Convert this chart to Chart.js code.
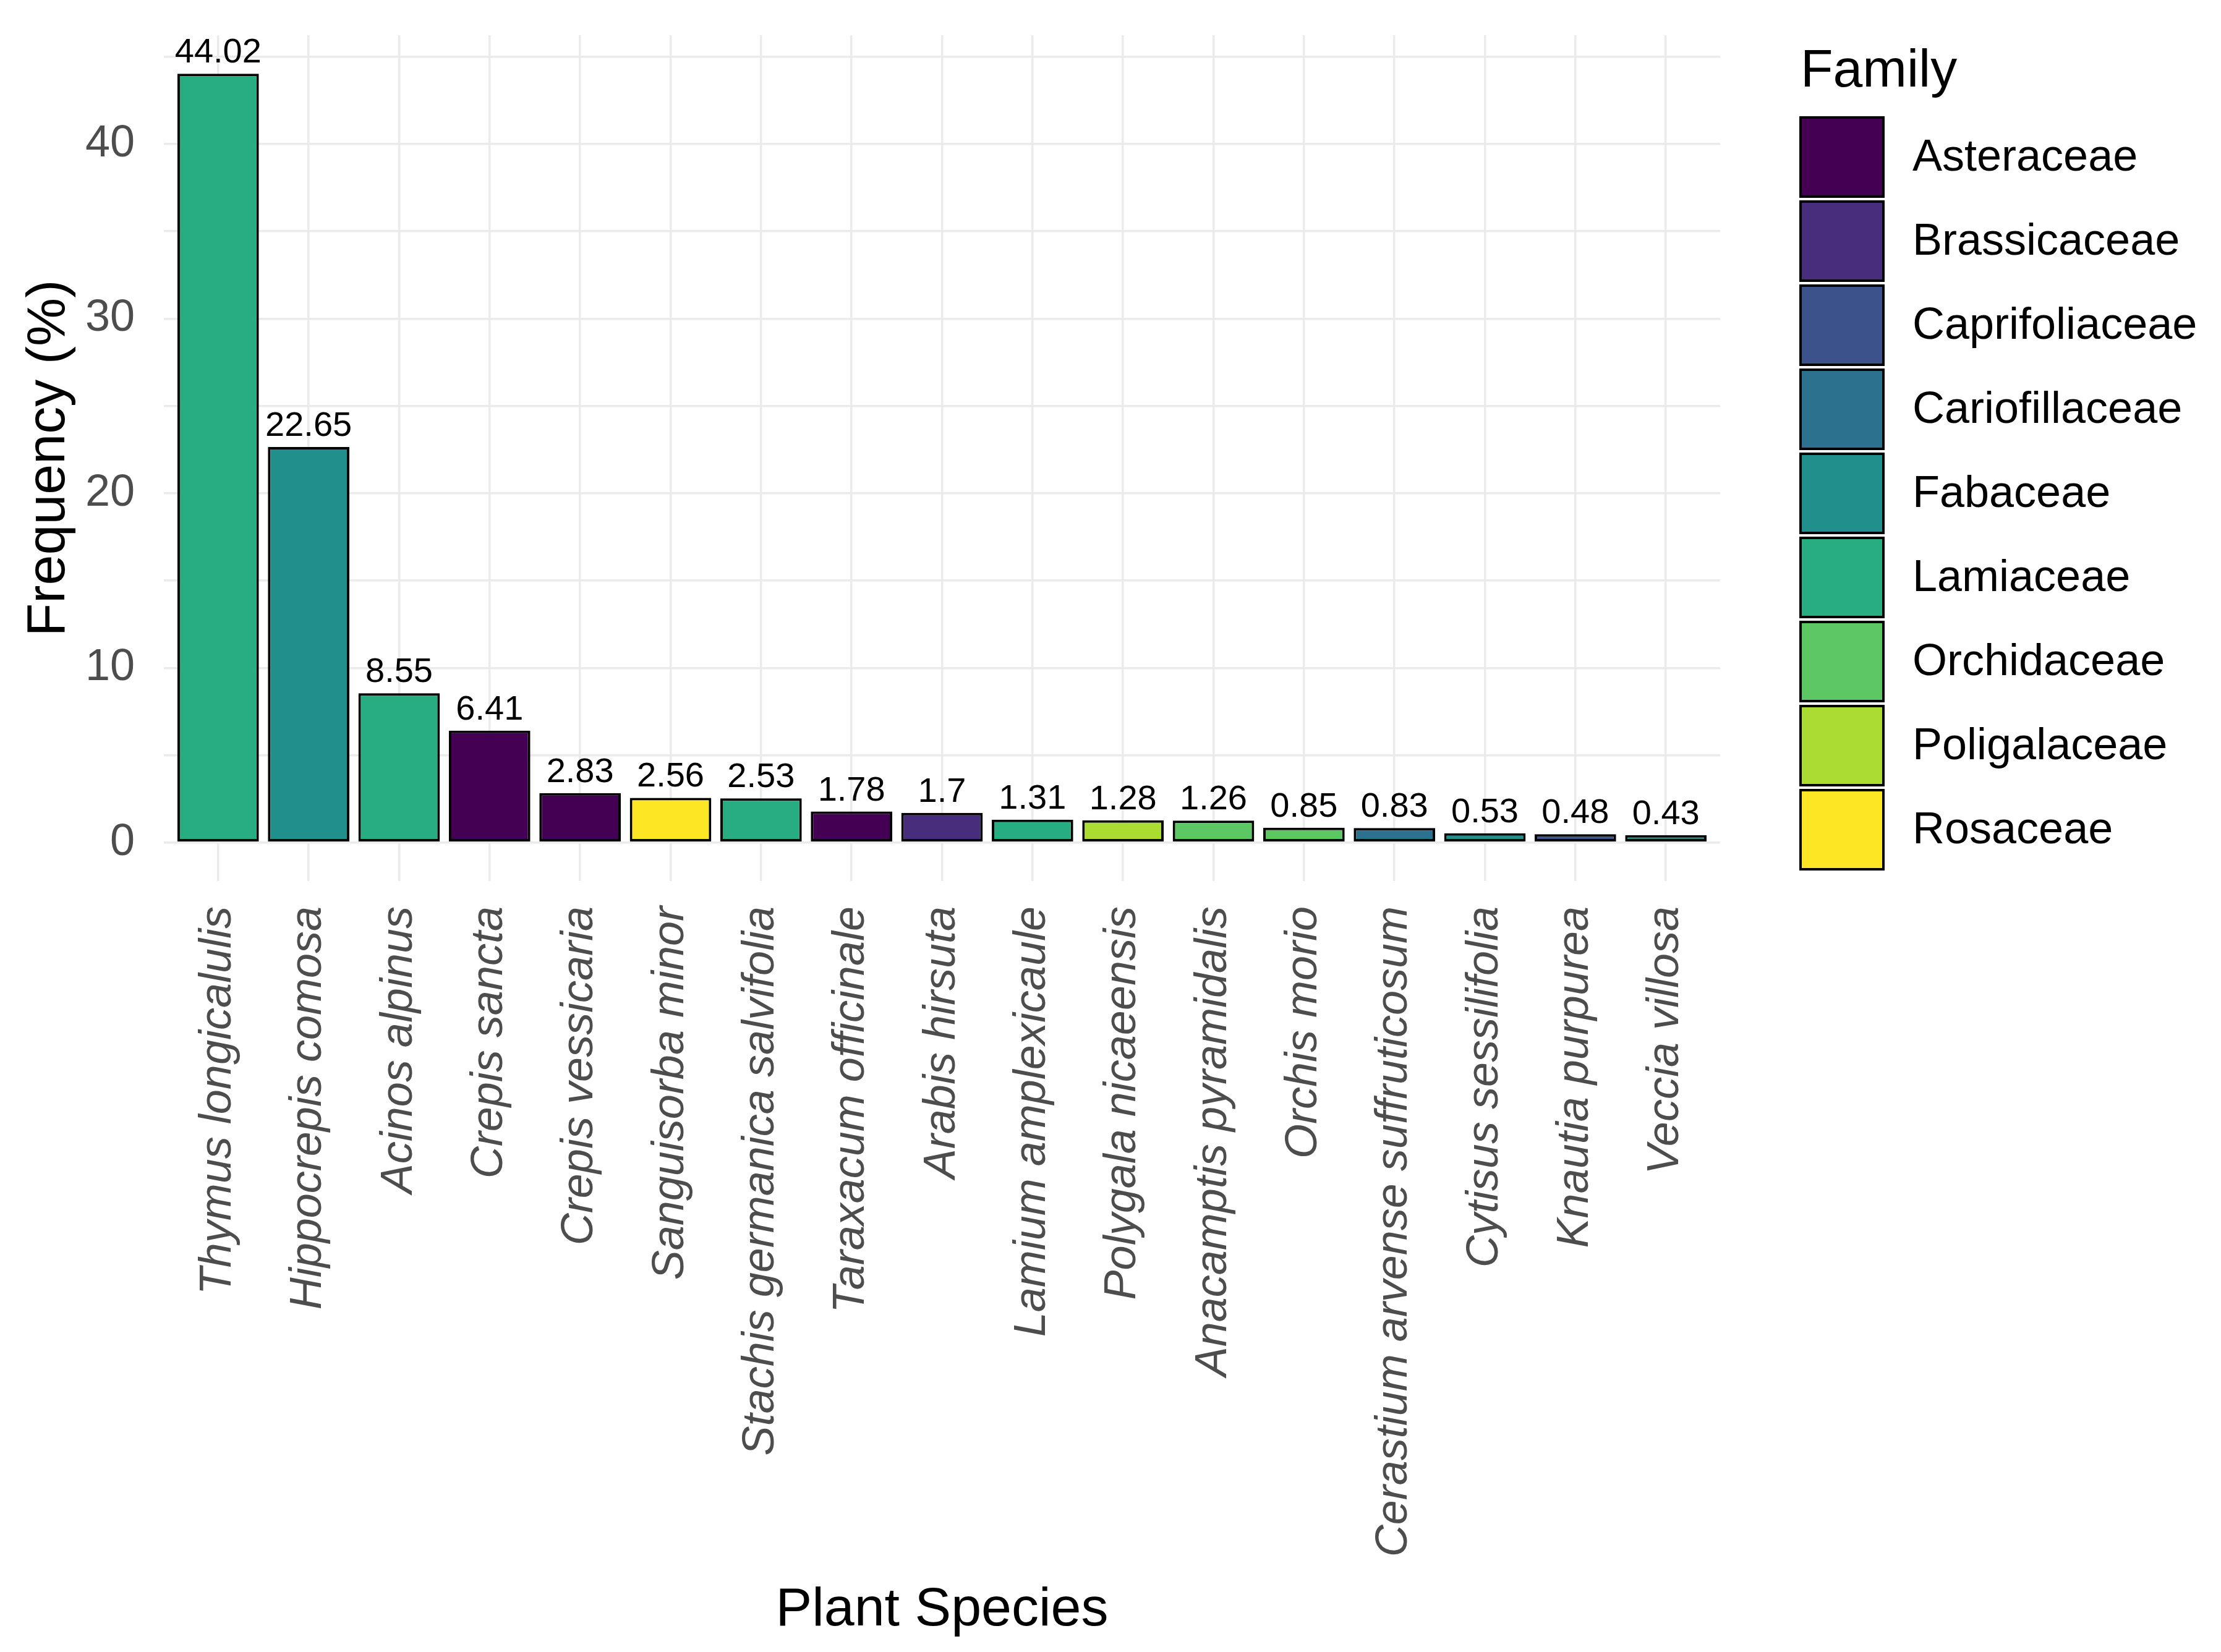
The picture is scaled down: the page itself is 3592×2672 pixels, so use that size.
<!DOCTYPE html>
<html>
<head>
<meta charset="utf-8">
<script src="https://cdn.jsdelivr.net/npm/chart.js@4.4.1/dist/chart.umd.min.js"></script>
<style>
  html, body { margin: 0; padding: 0; background: #fff; }
  canvas { display: block; }
</style>
</head>
<body>
<canvas id="speciesChart" width="3592" height="2672" style="width:3592px;height:2672px"></canvas>
<script>
// species sorted by frequency, as in the figure
const species = [
  'Thymus longicalulis', 'Hippocrepis comosa', 'Acinos alpinus', 'Crepis sancta',
  'Crepis vessicaria', 'Sanguisorba minor', 'Stachis germanica salvifolia',
  'Taraxacum officinale', 'Arabis hirsuta', 'Lamium amplexicaule',
  'Polygala nicaeensis', 'Anacamptis pyramidalis', 'Orchis morio',
  'Cerastium arvense suffruticosum', 'Cytisus sessilifolia', 'Knautia purpurea',
  'Veccia villosa'
];
const frequency = [44.02, 22.65, 8.55, 6.41, 2.83, 2.56, 2.53, 1.78, 1.7, 1.31,
  1.28, 1.26, 0.85, 0.83, 0.53, 0.48, 0.43];
const speciesFamily = [
  'Lamiaceae', 'Fabaceae', 'Lamiaceae', 'Asteraceae', 'Asteraceae', 'Rosaceae',
  'Lamiaceae', 'Asteraceae', 'Brassicaceae', 'Lamiaceae', 'Poligalaceae',
  'Orchidaceae', 'Orchidaceae', 'Cariofillaceae', 'Fabaceae', 'Caprifoliaceae',
  'Fabaceae'
];
const families = ['Asteraceae', 'Brassicaceae', 'Caprifoliaceae', 'Cariofillaceae',
  'Fabaceae', 'Lamiaceae', 'Orchidaceae', 'Poligalaceae', 'Rosaceae'];
const familyColors = ['#440154', '#472D7B', '#3B528B', '#2C728E', '#21908C',
  '#27AD81', '#5DC863', '#AADC32', '#FDE725'];
const yGridValues = [0, 5, 10, 15, 20, 25, 30, 35, 40, 45];

const FONT = "'Liberation Sans', Arial, sans-serif";
const yMax = Math.max(...frequency) * 1.05;
const yMin = -Math.max(...frequency) * 0.05;

// numbers above the bars
const valueLabels = {
  id: 'valueLabels',
  afterDatasetsDraw(chart) {
    const ctx = chart.ctx;
    const meta = chart.getDatasetMeta(0);
    ctx.save();
    ctx.font = '56px ' + FONT;
    ctx.fillStyle = '#000';
    ctx.textAlign = 'center';
    ctx.textBaseline = 'alphabetic';
    meta.data.forEach((bar, i) => {
      ctx.fillText(String(frequency[i]), bar.x, bar.y - 18);
    });
    ctx.restore();
  }
};

// ggplot-style fill legend on the right
const familyLegend = {
  id: 'familyLegend',
  afterDraw(chart) {
    const ctx = chart.ctx;
    const left = chart.chartArea.right + 130;
    const top = 190;
    const pitch = 136;
    const boxW = 134, boxH = 128;
    ctx.save();
    ctx.fillStyle = '#000';
    ctx.font = '86px ' + FONT;
    ctx.textAlign = 'left';
    ctx.textBaseline = 'alphabetic';
    ctx.fillText('Family', left, 140);
    ctx.font = '72px ' + FONT;
    ctx.textBaseline = 'middle';
    families.forEach((f, i) => {
      const y = top + i * pitch;
      ctx.fillStyle = familyColors[i];
      ctx.fillRect(left, y, boxW, boxH);
      ctx.lineWidth = 4;
      ctx.strokeStyle = '#000';
      ctx.strokeRect(left, y, boxW, boxH);
      ctx.fillStyle = '#000';
      ctx.fillText(f, left + 181, y + boxH / 2 + 2);
    });
    ctx.restore();
  }
};

new Chart(document.getElementById('speciesChart'), {
  type: 'bar',
  data: {
    datasets: [{
      data: frequency.map((v, i) => ({ x: i, y: v })),
      backgroundColor: speciesFamily.map(f => familyColors[families.indexOf(f)]),
      borderColor: '#000',
      borderWidth: 4,
      borderSkipped: false,
      barPercentage: 0.9,
      categoryPercentage: 1.0
    }]
  },
  options: {
    responsive: false,
    devicePixelRatio: 1,
    animation: false,
    layout: { padding: { top: 57, right: 810, bottom: 0, left: 0 } },
    plugins: { legend: { display: false }, tooltip: { enabled: false } },
    scales: {
      x: {
        type: 'linear',
        offset: false,
        min: -0.6,
        max: species.length - 0.4,
        afterBuildTicks: (axis) => { axis.ticks = species.map((s, i) => ({ value: i })); },
        afterFit: (axis) => {
          axis.height = 1247;
          axis.paddingLeft = 0;
          axis.paddingRight = 0;
        },
        grid: { color: '#EBEBEB', lineWidth: 3.5, drawTicks: false, offset: false },
        border: { display: false },
        ticks: {
          autoSkip: false,
          minRotation: 90,
          maxRotation: 90,
          padding: 41,
          color: '#4D4D4D',
          font: { family: FONT, size: 72, style: 'italic' },
          callback: (value) => species[value]
        },
        title: {
          display: true,
          text: 'Plant Species',
          color: '#000',
          font: { family: FONT, size: 88 },
          padding: { top: 0, bottom: 14 }
        }
      },
      y: {
        min: yMin,
        max: yMax,
        afterBuildTicks: (axis) => { axis.ticks = yGridValues.map(v => ({ value: v })); },
        afterFit: (axis) => {
          axis.width = 265;
          axis.paddingTop = 0;
          axis.paddingBottom = 0;
        },
        grid: { color: '#EBEBEB', lineWidth: 3.5, drawTicks: false },
        border: { display: false },
        ticks: {
          padding: 47,
          color: '#4D4D4D',
          font: { family: FONT, size: 72 },
          callback: (v) => (v % 10 === 0 ? v : '')
        },
        title: {
          display: true,
          text: 'Frequency (%)',
          color: '#000',
          font: { family: FONT, size: 88 },
          padding: { top: 27, bottom: 0 }
        }
      }
    }
  },
  plugins: [valueLabels, familyLegend]
});
</script>
</body>
</html>
